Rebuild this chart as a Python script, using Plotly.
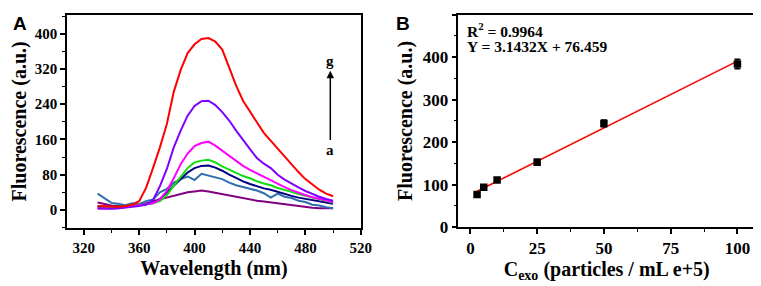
import plotly.graph_objects as go

# ---------------- Panel A data: fluorescence spectra ----------------
wavelength = [330, 335, 340, 345, 350, 355, 360, 365, 370, 375, 380, 385, 390, 395,
              400, 405, 410, 415, 420, 425, 430, 435, 440, 445, 450, 455, 460, 465,
              470, 475, 480, 485, 490, 495, 500]

spec_red = [9, 8, 7, 7, 9, 12, 20, 50, 95, 142, 195, 268, 318, 356,
            376, 388, 390, 382, 364, 325, 282, 248, 222, 199, 175, 157, 138, 120,
            104, 86, 70, 57, 46, 37, 31]
spec_violet = [4, 3, 3, 4, 5, 7, 9, 12, 22, 54, 93, 142, 180, 214,
               236, 247, 248, 238, 222, 203, 180, 158, 138, 118, 105, 95, 80, 69,
               59, 51, 43, 36, 30, 25, 21]
spec_magenta = [3, 3, 3, 4, 6, 8, 10, 12, 15, 24, 43, 72, 104, 128,
                145, 152, 155, 146, 134, 124, 111, 100, 91, 83, 75, 67, 59, 52,
                45, 39, 34, 29, 25, 21, 18]
spec_green = [5, 5, 6, 7, 8, 10, 11, 13, 15, 20, 33, 55, 76, 95,
              108, 112, 114, 108, 99, 92, 84, 77, 72, 65, 60, 56, 50, 46,
              41, 36, 32, 28, 24, 20, 17]
spec_navy = [8, 7, 7, 7, 8, 10, 11, 13, 16, 25, 40, 56, 72, 85,
             95, 100, 101, 96, 89, 80, 73, 65, 59, 54, 49, 46, 41, 37,
             32, 28, 25, 22, 19, 16, 14]
spec_blue = [37, 27, 16, 14, 11, 15, 13, 20, 24, 40, 48, 62, 70, 76,
             68, 82, 78, 74, 70, 62, 56, 52, 48, 44, 38, 28, 37, 30,
             27, 21, 18, 12, 10, 6, 4]
spec_purple = [17, 13, 10, 9, 9, 10, 12, 15, 20, 24, 28, 32, 37, 40,
               42, 44, 42, 39, 36, 33, 29, 27, 24, 21, 19, 17, 14, 12,
               10, 8, 6, 5, 4, 4, 4]

spectra = [spec_purple, spec_blue, spec_navy, spec_green, spec_magenta, spec_violet, spec_red]
spec_colors = ["#800080", "#2f6eae", "#000080", "#11dd11", "#ff00ff", "#8000ff", "#ff0000"]

# ---------------- Panel B data: calibration ----------------
concentration = [2.5, 5, 10, 25, 50, 100]
fluorescence = [76.5, 93.5, 111, 152.5, 244, 384]
errors = [3, 3, 3, 7, 8, 11]
slope = 3.1432
intercept = 76.459

A_tick_vals_x = [320, 360, 400, 440, 480, 520]
A_tick_vals_y = [0, 80, 160, 240, 320, 400]
B_tick_vals_x = [0, 25, 50, 75, 100]
B_tick_vals_y = [0, 100, 200, 300, 400, 500]

SERIF = "Times New Roman, Liberation Serif, serif"

fig = go.Figure()

for ys, col in zip(spectra, spec_colors):
    fig.add_trace(go.Scatter(x=wavelength, y=ys, mode="lines",
                             line=dict(color=col, width=2),
                             xaxis="x", yaxis="y", showlegend=False))

fit_x = [min(concentration), max(concentration)]
fit_y = [slope * v + intercept for v in fit_x]
fig.add_trace(go.Scatter(x=fit_x, y=fit_y, mode="lines",
                         line=dict(color="#ff0000", width=1.6),
                         xaxis="x2", yaxis="y2", showlegend=False))
fig.add_trace(go.Scatter(x=concentration, y=fluorescence, mode="markers",
                         marker=dict(symbol="square", size=7.5, color="black"),
                         error_y=dict(type="data", array=errors, color="black",
                                      thickness=1.5, width=3),
                         xaxis="x2", yaxis="y2", showlegend=False))

axis_common = dict(showline=True, linecolor="black", linewidth=1.6, mirror=True,
                   ticks="outside", ticklen=5, tickwidth=1.5, tickcolor="black",
                   showgrid=False, zeroline=False)

fig.update_layout(
    width=761, height=286,
    margin=dict(l=0, r=0, t=0, b=0),
    paper_bgcolor="white", plot_bgcolor="white",
    font=dict(family=SERIF, color="black"),
    xaxis=dict(domain=[0.0788, 0.4704], anchor="y", range=[308, 520],
               tickvals=A_tick_vals_x,
               tickfont=dict(family=SERIF, size=15, weight="bold"),
               minor=dict(dtick=20, tick0=300, ticks="outside", ticklen=3, tickwidth=1.2, tickcolor="black"),
               title=dict(text="Wavelength (nm)", font=dict(family=SERIF, size=20, weight="bold"), standoff=6),
               **axis_common),
    yaxis=dict(domain=[0.2028, 0.9755], anchor="x", range=[-41, 443],
               tickvals=A_tick_vals_y,
               tickfont=dict(family=SERIF, size=15, weight="bold"),
               minor=dict(dtick=40, tick0=0, ticks="outside", ticklen=3, tickwidth=1.2, tickcolor="black"),
               title=dict(text="Fluorescence (a.u.)", font=dict(family=SERIF, size=20, weight="bold"), standoff=5),
               **axis_common),
    xaxis2=dict(domain=[0.6005, 0.9961], anchor="y2", range=[-4.5, 106.6],
                tickvals=B_tick_vals_x,
                tickfont=dict(family=SERIF, size=17, weight="bold"),
                minor=dict(dtick=12.5, tick0=0, ticks="outside", ticklen=3, tickwidth=1.2, tickcolor="black"),
                title=dict(text="C<sub>exo</sub> (particles / mL e+5)",
                           font=dict(family=SERIF, size=20, weight="bold"), standoff=4),
                **axis_common),
    yaxis2=dict(domain=[0.2063, 0.9755], anchor="x2", range=[0, 500],
                tickvals=B_tick_vals_y,
                tickfont=dict(family=SERIF, size=17, weight="bold"),
                minor=dict(dtick=50, tick0=0, ticks="outside", ticklen=3, tickwidth=1.2, tickcolor="black"),
                title=dict(text="Fluorescence (a.u.)", font=dict(family=SERIF, size=20, weight="bold"), standoff=5),
                **axis_common),
)

annotations = [
    dict(text="<b>A</b>", xref="paper", yref="paper", x=3 / 761, y=1 - 3 / 286,
         xanchor="left", yanchor="top", showarrow=False,
         font=dict(family="Arial, Liberation Sans, sans-serif", size=19, color="black")),
    dict(text="<b>B</b>", xref="paper", yref="paper", x=392 / 761, y=1 - 3 / 286,
         xanchor="left", yanchor="top", showarrow=False,
         font=dict(family="Arial, Liberation Sans, sans-serif", size=19, color="black")),
    dict(text="<b>g</b>", xref="x", yref="y", x=498, y=338, showarrow=False,
         font=dict(family=SERIF, size=15, color="black")),
    dict(text="<b>a</b>", xref="x", yref="y", x=498, y=316, axref="x", ayref="y", ax=498, ay=137,
         showarrow=True, arrowhead=2, arrowsize=1, arrowwidth=1.5, arrowcolor="black",
         standoff=0, startstandoff=0,
         font=dict(family=SERIF, size=15, color="black")),
    dict(text="<b>R<sup>2</sup> = 0.9964</b>", xref="paper", yref="paper",
         x=464 / 761, y=1 - 23 / 286, xanchor="left", yanchor="middle", showarrow=False,
         font=dict(family=SERIF, size=15.5, color="black")),
    dict(text="<b>Y = 3.1432X + 76.459</b>", xref="paper", yref="paper",
         x=464 / 761, y=1 - 40 / 286, xanchor="left", yanchor="middle", showarrow=False,
         font=dict(family=SERIF, size=15.5, color="black")),
]
fig.update_layout(annotations=annotations)

fig.write_html("out.html")
